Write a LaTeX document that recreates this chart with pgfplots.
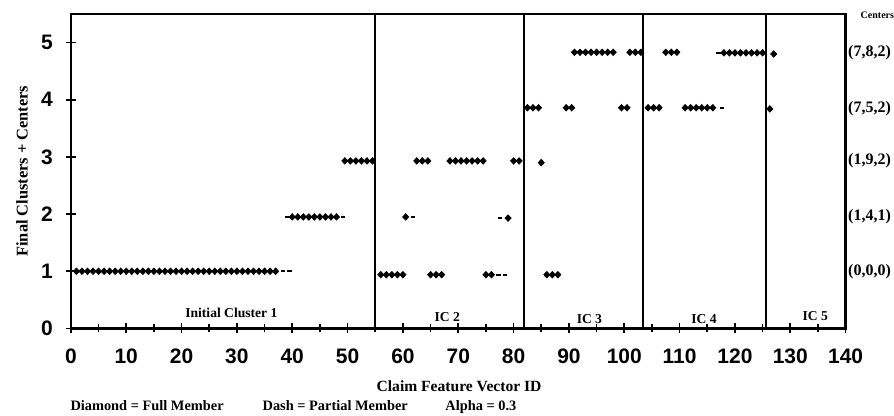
\documentclass[border=0pt]{standalone}
\usepackage{pgfplots}
\pgfplotsset{compat=1.18}
\usepackage{fontspec}
\setmainfont{Liberation Serif}
\setsansfont{Liberation Sans}
\begin{document}
\begin{tikzpicture}
\begin{axis}[
    scale only axis,
    width=388pt, height=157.5pt,
    xmin=0, xmax=140, ymin=0, ymax=5.5,
    axis line style={line width=1.2pt},
    xtick={0,10,...,140}, minor xtick={5,15,...,135},
    ytick={0,1,...,5},
    tick align=center, xtick pos=bottom, ytick pos=left,
    major tick length=5pt, minor tick length=4pt,
    every tick/.style={black, line width=0.8pt},
    ticklabel style={font=\sffamily\bfseries\fontsize{10.5}{11}\selectfont},
    /pgf/number format/assume math mode=true,
    xticklabel style={yshift=-4pt},
    yticklabel style={xshift=-3pt},
    clip=false,
]
% cluster separators
\addplot[black, line width=1pt] coordinates {(55,0) (55,5.5)};
\addplot[black, line width=1pt] coordinates {(81.8,0) (81.8,5.5)};
\addplot[black, line width=1pt] coordinates {(103.3,0) (103.3,5.5)};
\addplot[black, line width=1pt] coordinates {(125.6,0) (125.6,5.5)};

% full members (diamonds)
\addplot[only marks, mark=diamond*, mark size=1.6pt, mark options={fill=black, xscale=1.25}] coordinates {
 (1,1)(2,1)(3,1)(4,1)(5,1)(6,1)(7,1)(8,1)(9,1)(10,1)(11,1)(12,1)(13,1)(14,1)(15,1)(16,1)(17,1)(18,1)(19,1)
 (20,1)(21,1)(22,1)(23,1)(24,1)(25,1)(26,1)(27,1)(28,1)(29,1)(30,1)(31,1)(32,1)(33,1)(34,1)(35,1)(36,1)(37,1)
 (40,1.95)(41,1.95)(42,1.95)(43,1.95)(44,1.95)(45,1.95)(46,1.95)(47,1.95)(48,1.95)
 (49.5,2.93)(50.5,2.93)(51.5,2.93)(52.5,2.93)(53.5,2.93)(54.5,2.93)
 (56,0.94)(57,0.94)(58,0.94)(59,0.94)(60,0.94)
 (65,0.94)(66,0.94)(67,0.94)
 (75,0.94)(76,0.94)
 (86,0.94)(87,0.94)(88,0.94)
 (60.5,1.95)(79,1.93)
 (62.5,2.93)(63.5,2.93)(64.5,2.93)
 (68.5,2.93)(69.5,2.93)(70.5,2.93)(71.5,2.93)(72.5,2.93)(73.5,2.93)(74.5,2.93)
 (80,2.93)(81,2.93)(85,2.9)
 (82.5,3.86)(83.5,3.86)(84.5,3.86)(89.5,3.86)(90.5,3.86)(99.5,3.86)(100.5,3.86)
 (104.3,3.86)(105.3,3.86)(106.3,3.86)
 (111,3.86)(112,3.86)(113,3.86)(114,3.86)(115,3.86)(116,3.86)(126.3,3.84)
 (91,4.83)(92,4.83)(93,4.83)(94,4.83)(95,4.83)(96,4.83)(97,4.83)(98,4.83)
 (101,4.83)(102,4.83)(103,4.83)
 (107.5,4.83)(108.5,4.83)(109.5,4.83)
 (118,4.82)(119,4.82)(120,4.82)(121,4.82)(122,4.82)(123,4.82)(124,4.82)(125,4.82)(127,4.8)
};
% partial members (dashes)
\addplot[only marks, mark=-, mark size=1.1pt, mark options={line width=0.9pt}] coordinates {
 (38.3,1)(39.5,1)(39,1.95)(49.2,1.95)(61.8,1.95)(77.5,1.93)(77.3,0.94)(78.5,0.94)(117.7,3.86)(117,4.82)
};

% cluster labels
\begin{scope}[every node/.style={font=\bfseries\fontsize{6.8}{7}\selectfont}]
\node at (axis cs:29,0.28) {Initial Cluster 1};
\node at (axis cs:68,0.2) {IC 2};
\node at (axis cs:93.7,0.16) {IC 3};
\node at (axis cs:114.4,0.17) {IC 4};
\node at (axis cs:134.5,0.22) {IC 5};
\end{scope}

% centers on the right
\begin{scope}[every node/.style={font=\bfseries\fontsize{8}{8}\selectfont, anchor=west, inner sep=0pt}]
\node[font=\bfseries\fontsize{5}{5}\selectfont] at (rel axis cs:1.019,0.997) {Centers};
\node at (axis cs:140.4,4.83) {(7,8,2)};
\node at (axis cs:140.4,3.85) {(7,5,2)};
\node at (axis cs:140.4,2.93) {(1,9,2)};
\node at (axis cs:140.4,1.95) {(1,4,1)};
\node at (axis cs:140.4,1) {(0,0,0)};
\end{scope}

% axis titles and footer
\node[font=\bfseries\fontsize{8.2}{8}\selectfont, rotate=90] at (rel axis cs:-0.063,0.5) {Final Clusters + Centers};
\node[font=\bfseries\fontsize{7.8}{8}\selectfont] at (rel axis cs:0.501,-0.184) {Claim Feature Vector ID};
\begin{scope}[every node/.style={font=\bfseries\fontsize{7.2}{7}\selectfont, anchor=base west, inner sep=0pt}]
\node at (rel axis cs:-0.001,-0.262) {Diamond = Full Member};
\node at (rel axis cs:0.247,-0.262) {Dash = Partial Member};
\node at (rel axis cs:0.483,-0.262) {Alpha = 0.3};
\end{scope}

% page extent
\path (rel axis cs:-0.0915,-0.276) (rel axis cs:1.0606,1.0444);
\end{axis}
\end{tikzpicture}
\end{document}
